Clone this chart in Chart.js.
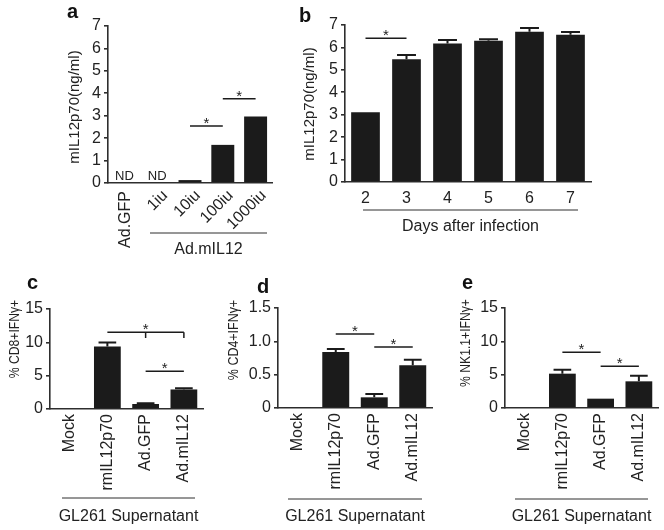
<!DOCTYPE html>
<html>
<head>
<meta charset="utf-8">
<script src="https://cdn.jsdelivr.net/npm/chart.js@4/dist/chart.umd.min.js"></script>
<style>
  body { margin: 0; background: #fff; }
  #wrap { position: relative; width: 664px; height: 530px; }
  canvas { position: absolute; }
</style>
</head>
<body>
<div id="wrap">
  <canvas id="chartA" width="290" height="260" style="left:0;top:0"></canvas>
  <canvas id="chartB" width="374" height="250" style="left:290px;top:0"></canvas>
  <canvas id="chartC" width="222" height="270" style="left:0;top:260px"></canvas>
  <canvas id="chartD" width="222" height="270" style="left:222px;top:260px"></canvas>
  <canvas id="chartE" width="220" height="270" style="left:444px;top:260px"></canvas>
</div>
<script>
/* ================= DATA ================= */
// a: IL12 from increasing doses
const doseLabels = ["Ad.GFP", "1iu", "10iu", "100iu", "1000iu"];
const doseValues = [0, 0, 0.13, 1.7, 2.96];
const doseND = [0, 1];                       // not detected
const doseSig = [[2, 3, 2.54], [3, 4, 3.76]];

// b: IL12 over days
const dayLabels = ["2", "3", "4", "5", "6", "7"];
const dayValues = [3.11, 5.47, 6.18, 6.3, 6.7, 6.57];
const dayErrors = [0, 0.19, 0.15, 0.07, 0.17, 0.12];
const daySig = [[0, 1, 6.41]];

// c, d, e: IFNg+ cells after GL261 supernatant
const groupLabels = ["Mock", "rmIL12p70", "Ad.GFP", "Ad.mIL12"];
const cd8Values = [0, 9.38, 0.75, 2.93];
const cd8Errors = [0, 0.6, 0.1, 0.2];
const cd8Sig = [[1, 3, 11.5], [2, 3, 5.65]];
const cd8Drops = [2, 3];
const cd8DropTo = 10.65;

const cd4Values = [0.01, 0.84, 0.16, 0.64];
const cd4Errors = [0, 0.045, 0.05, 0.085];
const cd4Sig = [[1, 2, 1.11], [2, 3, 0.915]];

const nkValues = [0, 5.15, 1.4, 4.0];
const nkErrors = [0, 0.6, 0, 0.85];
const nkSig = [[1, 2, 8.35], [2, 3, 6.25]];

/* ================= STYLE ================= */
const ink = "#1b1b1b";
const axisInk = "#2e2e2e";
const textInk = "#222";
const family = "'Liberation Sans', Arial, Helvetica, sans-serif";

/* ================= EXTRAS: error bars, stars, labels ================= */
const annotate = {
  id: "annotate",
  afterDraw(chart, args, o) {
    const ctx = chart.ctx, xs = chart.scales.x, ys = chart.scales.y;
    const vals = chart.data.datasets[0].data;
    const bars = chart.getDatasetMeta(0).data;
    ctx.save();
    ctx.strokeStyle = ink;
    ctx.fillStyle = textInk;

    // error bars (upper only)
    (o.errors || []).forEach((e, i) => {
      if (!e) return;
      const b = bars[i];
      const top = ys.getPixelForValue(vals[i] + e);
      const half = b.width * 0.33;
      ctx.lineWidth = 2;
      ctx.beginPath();
      ctx.moveTo(b.x, b.y);
      ctx.lineTo(b.x, top);
      ctx.moveTo(b.x - half, top);
      ctx.lineTo(b.x + half, top);
      ctx.stroke();
    });

    // significance lines
    ctx.font = "15px " + family;
    ctx.textAlign = "center";
    ctx.textBaseline = "alphabetic";
    (o.sig || []).forEach(([a, b, v]) => {
      const x1 = xs.getPixelForValue(a), x2 = xs.getPixelForValue(b);
      const y = ys.getPixelForValue(v);
      ctx.lineWidth = 1.5;
      ctx.beginPath();
      ctx.moveTo(x1, y);
      ctx.lineTo(x2, y);
      ctx.stroke();
      ctx.fillText("*", (x1 + x2) / 2, y + 2);
    });
    if (o.drops) {
      const yTop = ys.getPixelForValue(o.sig[0][2]);
      const yEnd = ys.getPixelForValue(o.dropTo);
      o.drops.forEach(i => {
        const x = xs.getPixelForValue(i);
        ctx.beginPath();
        ctx.moveTo(x, yTop);
        ctx.lineTo(x, yEnd);
        ctx.stroke();
      });
    }

    // ND labels
    ctx.font = "13px " + family;
    ctx.textBaseline = "middle";
    (o.nd || []).forEach(i => {
      ctx.fillText("ND", xs.getPixelForValue(i), ys.getPixelForValue(0) - 7);
    });

    // panel a: mixed rotation category labels
    if (o.doseTicks) {
      ctx.font = "16px " + family;
      ctx.textAlign = "right";
      o.doseTicks.forEach((t, i) => {
        const x = xs.getPixelForValue(i);
        ctx.save();
        if (i === 0) {
          ctx.translate(x + 1, xs.top + 8);
          ctx.rotate(-Math.PI / 2);
        } else {
          ctx.translate(x + 8, xs.top + 10);
          ctx.rotate(-Math.PI / 4);
        }
        ctx.fillText(t, 0, 0);
        ctx.restore();
      });
    }

    // y title
    if (o.yTitle) {
      const t = o.yTitle;
      ctx.save();
      ctx.font = "15px " + family;
      ctx.textAlign = "center";
      ctx.textBaseline = "middle";
      ctx.translate(t.x, t.y);
      ctx.rotate(-Math.PI / 2);
      ctx.scale(t.squeeze || 1, 1);
      ctx.fillText(t.text, 0, 0);
      ctx.restore();
    }

    // group underline + caption
    if (o.group) {
      const g = o.group;
      ctx.strokeStyle = axisInk;
      ctx.lineWidth = 1;
      ctx.beginPath();
      ctx.moveTo(g.x1, g.lineY);
      ctx.lineTo(g.x2, g.lineY);
      ctx.stroke();
      ctx.font = "16px " + family;
      ctx.textAlign = "center";
      ctx.textBaseline = "middle";
      ctx.fillText(g.text, (g.x1 + g.x2) / 2, g.textY);
    }

    // panel letter
    if (o.letter) {
      ctx.font = "bold 20px " + family;
      ctx.textAlign = "left";
      ctx.textBaseline = "alphabetic";
      ctx.fillStyle = "#111";
      ctx.fillText(o.letter.text, o.letter.x, o.letter.y);
    }
    ctx.restore();
  }
};

function panel(id, labels, values, p) {
  return new Chart(document.getElementById(id), {
    type: "bar",
    data: {
      labels: labels,
      datasets: [{
        data: values,
        backgroundColor: ink,
        borderWidth: 0,
        categoryPercentage: 1,
        barPercentage: 0.7
      }]
    },
    options: {
      responsive: false,
      animation: false,
      layout: { padding: { left: 0, top: p.top, right: p.right, bottom: 0 } },
      plugins: {
        legend: { display: false },
        tooltip: { enabled: false },
        annotate: p.notes
      },
      scales: {
        x: {
          grid: { display: false, drawTicks: false },
          border: { display: true, color: axisInk, width: 1.6 },
          ticks: {
            display: p.xTicks !== false,
            autoSkip: false,
            minRotation: p.rot || 0,
            maxRotation: p.rot || 0,
            padding: p.xPad || 5,
            color: textInk,
            font: { family: family, size: 16 }
          },
          afterFit(s) { s.height = p.xHeight; }
        },
        y: {
          min: 0,
          max: p.max,
          ticks: {
            stepSize: p.step,
            padding: 3,
            color: textInk,
            font: { family: family, size: 16 },
            callback: p.fmt || (v => v)
          },
          grid: { display: true, drawOnChartArea: false, drawTicks: true, tickLength: 4, color: axisInk, lineWidth: 1.6 },
          border: { display: true, color: axisInk, width: 1.6 },
          afterFit(s) { s.width = p.yWidth; }
        }
      }
    },
    plugins: [annotate]
  });
}

/* ================= a ================= */
panel("chartA", doseLabels, doseValues, {
  top: 26, right: 18, yWidth: 108, xHeight: 77, max: 7, step: 1, xTicks: false,
  notes: {
    sig: doseSig, nd: doseND, doseTicks: doseLabels,
    yTitle: { text: "mIL12p70(ng/ml)", x: 75, y: 107 },
    group: { text: "Ad.mIL12", x1: 150, x2: 267, lineY: 233, textY: 250 },
    letter: { text: "a", x: 67, y: 18 }
  }
});

/* ================= b ================= */
panel("chartB", dayLabels, dayValues, {
  top: 25, right: 73, yWidth: 55, xHeight: 68, max: 7, step: 1, xPad: 7,
  notes: {
    errors: dayErrors, sig: daySig,
    yTitle: { text: "mIL12p70(ng/ml)", x: 20, y: 104 },
    group: { text: "Days after infection", x1: 73, x2: 288, lineY: 210, textY: 227 },
    letter: { text: "b", x: 9, y: 22 }
  }
});

/* ================= c ================= */
panel("chartC", groupLabels, cd8Values, {
  top: 49, right: 19, yWidth: 50, xHeight: 121, max: 15, step: 5, rot: 90,
  notes: {
    errors: cd8Errors, sig: cd8Sig, drops: cd8Drops, dropTo: cd8DropTo,
    yTitle: { text: "% CD8+IFNγ+", x: 15, y: 79, squeeze: 0.81 },
    group: { text: "GL261 Supernatant", x1: 62, x2: 195, lineY: 238, textY: 257 },
    letter: { text: "c", x: 27, y: 29 }
  }
});

/* ================= d ================= */
panel("chartD", groupLabels, cd4Values, {
  top: 48, right: 12, yWidth: 56, xHeight: 122, max: 1.5, step: 0.5, rot: 90,
  fmt: v => (v === 0 ? "0" : v.toFixed(1)),
  notes: {
    errors: cd4Errors, sig: cd4Sig,
    yTitle: { text: "% CD4+IFNγ+", x: 12, y: 80, squeeze: 0.83 },
    group: { text: "GL261 Supernatant", x1: 66, x2: 200, lineY: 239, textY: 257 },
    letter: { text: "d", x: 35, y: 33 }
  }
});

/* ================= e ================= */
panel("chartE", groupLabels, nkValues, {
  top: 48, right: 6, yWidth: 61, xHeight: 122, max: 15, step: 5, rot: 90,
  notes: {
    errors: nkErrors, sig: nkSig,
    yTitle: { text: "% NK1.1+IFNγ+", x: 22, y: 83, squeeze: 0.81 },
    group: { text: "GL261 Supernatant", x1: 71, x2: 204, lineY: 239, textY: 257 },
    letter: { text: "e", x: 18, y: 29 }
  }
});
</script>
</body>
</html>
